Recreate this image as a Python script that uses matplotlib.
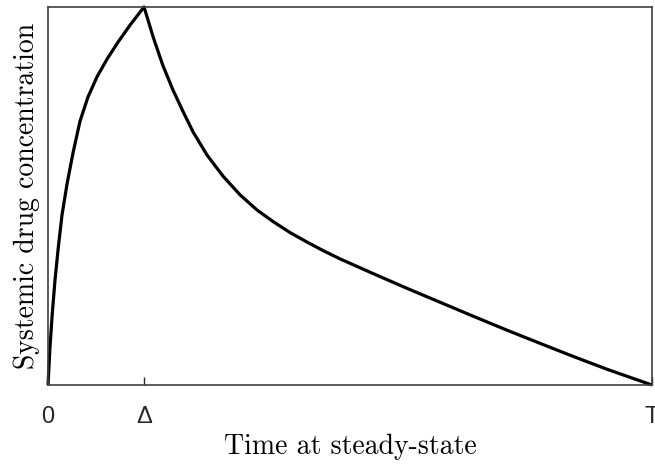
import numpy as np
import matplotlib
matplotlib.use("Agg")
import matplotlib.pyplot as plt

# time in units of the dosing interval T, concentration scaled to the peak
delta = 0.159
t_rise = [0.0, 0.0033, 0.0071, 0.0116, 0.0171, 0.0232, 0.0315, 0.0414, 0.0530,
          0.0662, 0.0811, 0.0977, 0.1159, 0.1358, 0.159]
c_rise = [0.0, 0.101, 0.190, 0.278, 0.365, 0.450, 0.532, 0.614, 0.698,
          0.762, 0.815, 0.862, 0.907, 0.952, 1.0]
t_decay = [0.159, 0.174, 0.190, 0.207, 0.224, 0.240, 0.263, 0.290, 0.318, 0.346,
           0.373, 0.401, 0.429, 0.455, 0.483, 0.538, 0.594, 0.649, 0.704, 0.760,
           0.815, 0.869, 0.925, 1.0]
c_decay = [1.0, 0.921, 0.846, 0.780, 0.722, 0.670, 0.609, 0.552, 0.503, 0.463,
           0.432, 0.403, 0.378, 0.356, 0.334, 0.295, 0.256, 0.219, 0.182, 0.145,
           0.110, 0.076, 0.042, 0.0]
tick_pos = [0, delta, 1]
tick_labels = ["0", "Δ", "T"]

t = np.array(t_rise + t_decay[1:])
c = np.array(c_rise + c_decay[1:])

fig = plt.figure(figsize=(6.55, 4.65), dpi=100)
ax = fig.add_axes([0.0733, 0.172, 0.9221, 0.813])

ax.plot(t, c, color="black", lw=2.3, solid_joinstyle="round",
        solid_capstyle="butt", clip_on=False)

ax.set_xlim(0, 1)
ax.set_ylim(0, 1)
ax.set_xticks(tick_pos)
ax.set_xticklabels(tick_labels, fontsize=17, fontfamily="Liberation Sans", color="#262626")
ax.set_yticks([])
ax.tick_params(axis="x", direction="in", length=6, width=1, color="#262626", pad=15)

for s in ax.spines.values():
    s.set_color("#404040")
    s.set_linewidth(1.2)

ax.set_xlabel("Time at steady-state", fontsize=20, fontfamily="cmr10", labelpad=4)
ax.set_ylabel("Systemic drug concentration", fontsize=20, fontfamily="cmr10", labelpad=6)

fig.savefig("out.png", dpi=100)
